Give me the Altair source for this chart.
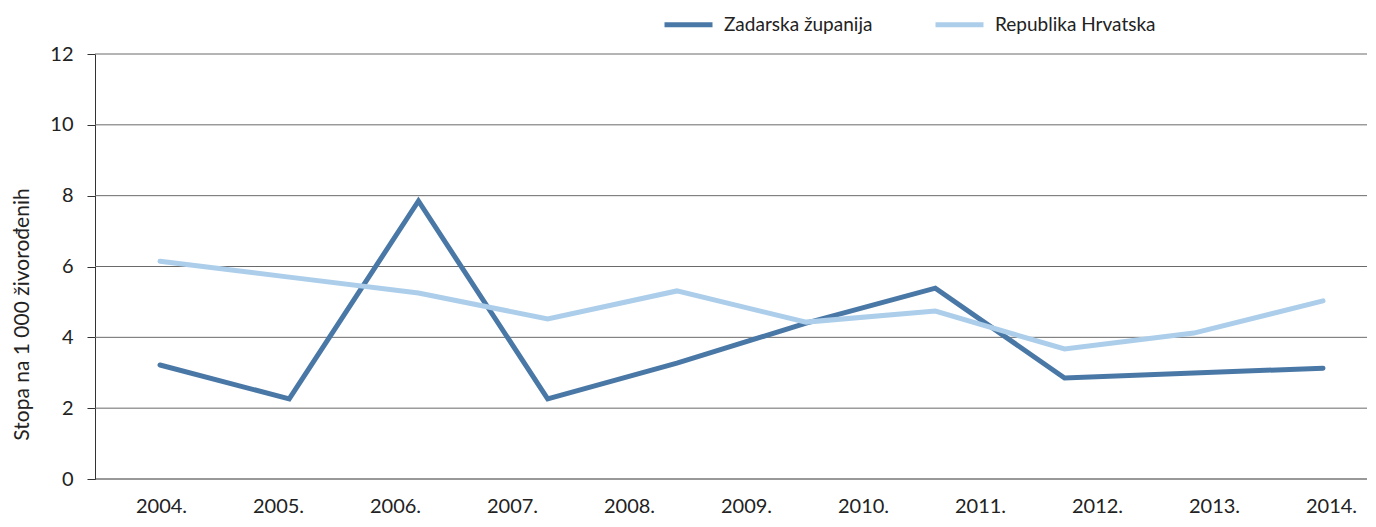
import altair as alt
import pandas as pd

# Axis categories (11 labels on the x axis)
YEARS = ["2004.", "2005.", "2006.", "2007.", "2008.", "2009.", "2010.",
         "2011.", "2012.", "2013.", "2014."]

# In the reference each series is drawn as 10 evenly spaced points
POINTS = [1, 2, 3, 4, 5, 6, 7, 8, 9, 10]
ZADAR = [3.22, 2.26, 7.85, 2.26, 3.27, 4.40, 5.39, 2.85, 2.99, 3.13]
HRVATSKA = [6.15, 5.70, 5.25, 4.52, 5.31, 4.43, 4.74, 3.67, 4.12, 5.03]

SERIES = ["Zadarska županija", "Republika Hrvatska"]
COLORS = ["#4a78a6", "#acceea"]
Y_TICKS = [0, 2, 4, 6, 8, 10, 12]
Y_TITLE = "Stopa na 1 000 živorođenih"

FONT = "Lato"

lines_df = pd.DataFrame({
    "point": POINTS + POINTS,
    "value": ZADAR + HRVATSKA,
    "series": [SERIES[0]] * len(POINTS) + [SERIES[1]] * len(POINTS),
    "order": [0] * len(POINTS) + [1] * len(POINTS),
})
axis_df = pd.DataFrame({"year": YEARS})
grid_df = pd.DataFrame({"tick": Y_TICKS[1:]})
base_df = pd.DataFrame({"tick": [0]})

W, H = 1272, 425
Y_SCALE = alt.Scale(domain=[0, 12], nice=False)
Y_AXIS = alt.Axis(values=Y_TICKS, title=Y_TITLE, grid=False,
                  domain=True, domainColor="#333333",
                  ticks=True, tickSize=8, tickColor="#333333",
                  labelFont=FONT, labelFontSize=20, labelColor="#222222",
                  labelPadding=14,
                  titleFont=FONT, titleFontSize=21, titleFontWeight="normal",
                  titleColor="#222222", titleAngle=-90,
                  titleX=-67, titleY=260, titleAlign="center",
                  titleBaseline="alphabetic")

grid = alt.Chart(grid_df).mark_rule(color="#6a6a6a", strokeWidth=1).encode(
    y=alt.Y("tick:Q", scale=Y_SCALE, axis=Y_AXIS, title=Y_TITLE),
    x=alt.value(0),
    x2=alt.value(W),
)

axis_layer = alt.Chart(axis_df).mark_point(opacity=0).encode(
    x=alt.X("year:N", sort=YEARS,
            scale=alt.Scale(type="point", range=[66, 1236], padding=0),
            axis=alt.Axis(title=None, labelAngle=0, ticks=False, grid=False,
                          domain=False,
                          labelFont=FONT, labelFontSize=20, labelColor="#222222",
                          labelPadding=17)),
)

# bottom axis line spanning the full plot width
baseline = alt.Chart(base_df).mark_rule(color="#333333", strokeWidth=1).encode(
    y=alt.Y("tick:Q", scale=Y_SCALE, axis=Y_AXIS, title=Y_TITLE),
    x=alt.value(0),
    x2=alt.value(W),
)

lines = alt.Chart(lines_df).mark_line(strokeWidth=5, strokeCap="round", strokeJoin="miter").encode(
    x=alt.X("point:O", scale=alt.Scale(type="point", range=[65, 1228], padding=0), axis=None),
    y=alt.Y("value:Q", scale=Y_SCALE, axis=Y_AXIS, title=Y_TITLE),
    color=alt.Color("series:N", scale=alt.Scale(domain=SERIES, range=COLORS),
                    legend=alt.Legend(title=None, orient="none", legendX=567, legendY=-56,
                                      direction="horizontal", symbolType="stroke",
                                      symbolSize=2304, symbolStrokeWidth=5,
                                      labelFont=FONT, labelFontSize=19, labelColor="#222222",
                                      labelLimit=400,
                                      labelOffset=9, columnPadding=52, padding=0)),
    order=alt.Order("order:Q"),
)

chart = alt.layer(grid, axis_layer, baseline, lines).resolve_scale(x="independent").properties(
    width=W, height=H,
    autosize=alt.AutoSizeParams(type="none"),
    padding={"left": 87, "top": 46, "right": 1, "bottom": 40},
    view=alt.ViewBackground(stroke="transparent", strokeWidth=0),
).configure_view(strokeWidth=0, stroke="transparent", strokeOpacity=0).configure(background="white")

chart.save("out.html", embed_options={"renderer": "svg", "actions": False})
